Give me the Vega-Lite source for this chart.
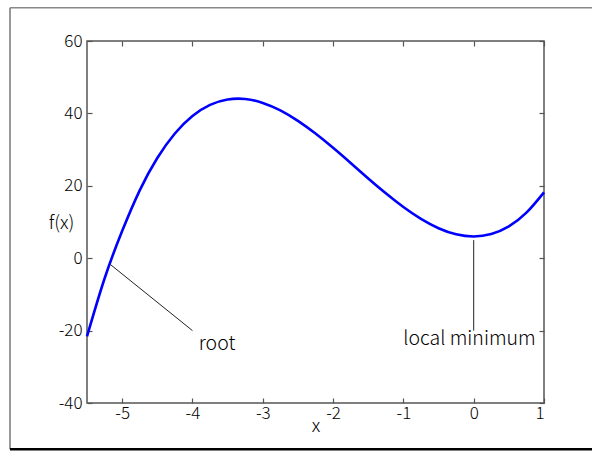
{
  "$schema": "https://vega.github.io/schema/vega-lite/v6.json",
  "width": 457,
  "height": 362,
  "autosize": "none",
  "padding": {"left": 87, "top": 41, "right": 48, "bottom": 50},
  "background": "white",
  "config": {
    "font": "Noto Sans CJK JP",
    "view": {"stroke": "#555", "strokeWidth": 1.5},
    "axis": {
      "domain": false,
      "grid": false,
      "tickColor": "#555",
      "tickWidth": 1.2,
      "tickSize": -5,
      "labelFontSize": 17,
      "labelFontWeight": 300,
      "labelColor": "#000",
      "labelFont": "Noto Sans CJK JP",
      "labelExpr": "'' + datum.value",
      "titleFont": "Noto Sans CJK JP",
      "titleFontSize": 18.5,
      "titleFontWeight": 300,
      "titleColor": "#000"
    }
  },
  "datasets": {
    "curve": [
      {"x": -5.5, "y": -21.6},
      {"x": -5.25, "y": -5.6},
      {"x": -5.0, "y": 7.5},
      {"x": -4.75, "y": 18.75},
      {"x": -4.5, "y": 27.67},
      {"x": -4.25, "y": 34.45},
      {"x": -4.0, "y": 39.28},
      {"x": -3.75, "y": 42.36},
      {"x": -3.5, "y": 43.85},
      {"x": -3.25, "y": 43.98},
      {"x": -3.0, "y": 42.9},
      {"x": -2.75, "y": 40.83},
      {"x": -2.5, "y": 37.94},
      {"x": -2.25, "y": 34.43},
      {"x": -2.0, "y": 30.48},
      {"x": -1.75, "y": 26.29},
      {"x": -1.5, "y": 22.04},
      {"x": -1.25, "y": 17.93},
      {"x": -1.0, "y": 14.14},
      {"x": -0.75, "y": 10.86},
      {"x": -0.5, "y": 8.29},
      {"x": -0.25, "y": 6.6},
      {"x": 0.0, "y": 6.0},
      {"x": 0.25, "y": 6.67},
      {"x": 0.5, "y": 8.79},
      {"x": 0.75, "y": 12.57},
      {"x": 1.0, "y": 18.18}
    ],
    "notes": [
      {"x": -5.17, "y": -1.7, "x2": -4.0, "y2": -20.0, "tx": -3.91, "ty": -23.6, "label": "root", "align": "left"},
      {"x": 0.0, "y": 5.0, "x2": 0.0, "y2": -20.0, "tx": -0.06, "ty": -22.2, "label": "local minimum", "align": "center"}
    ]
  },
  "layer": [
    {
      "data": {"name": "curve"},
      "mark": {"type": "line", "color": "#0000ff", "strokeWidth": 2.6, "interpolate": "natural"},
      "encoding": {
        "x": {"field": "x", "type": "quantitative", "scale": {"domain": [-5.5, 1], "nice": false, "zero": false},
          "axis": {"orient": "bottom", "values": [-5, -4, -3, -2, -1, 0, 1], "labelPadding": 7, "title": "x", "titleAnchor": "middle", "titleBaseline": "middle", "titleY": 22, "titlePadding": 0}},
        "y": {"field": "y", "type": "quantitative", "scale": {"domain": [-40, 60], "nice": false, "zero": false},
          "axis": {"orient": "left", "values": [-40, -20, 0, 20, 40, 60], "labelPadding": 10, "title": "f(x)", "titleAngle": 0, "titleAlign": "center", "titleBaseline": "middle", "titleX": -26, "titleY": 181}}
      }
    },
    {
      "data": {"name": "curve"},
      "mark": {"type": "line", "opacity": 0},
      "encoding": {
        "x": {"field": "x", "type": "quantitative", "axis": {"orient": "top", "values": [-5, -4, -3, -2, -1, 0, 1], "labels": false, "title": null}},
        "y": {"field": "y", "type": "quantitative", "axis": {"orient": "right", "values": [-40, -20, 0, 20, 40, 60], "labels": false, "title": null}}
      }
    },
    {
      "data": {"name": "notes"},
      "mark": {"type": "rule", "color": "#222", "strokeWidth": 1},
      "encoding": {
        "x": {"field": "x", "type": "quantitative", "axis": null},
        "y": {"field": "y", "type": "quantitative", "axis": null},
        "x2": {"field": "x2"},
        "y2": {"field": "y2"}
      }
    },
    {
      "data": {"name": "notes"},
      "transform": [{"filter": "datum.align == 'left'"}],
      "mark": {"type": "text", "fontSize": 19.5, "fontWeight": 300, "baseline": "middle", "align": "left", "color": "#000"},
      "encoding": {
        "x": {"field": "tx", "type": "quantitative", "axis": null},
        "y": {"field": "ty", "type": "quantitative", "axis": null},
        "text": {"field": "label"}
      }
    },
    {
      "data": {"name": "notes"},
      "transform": [{"filter": "datum.align == 'center'"}],
      "mark": {"type": "text", "fontSize": 19.5, "fontWeight": 300, "baseline": "middle", "align": "center", "color": "#000"},
      "encoding": {
        "x": {"field": "tx", "type": "quantitative", "axis": null},
        "y": {"field": "ty", "type": "quantitative", "axis": null},
        "text": {"field": "label"}
      }
    },
    {
      "data": {"values": [{}]},
      "mark": {"type": "rule", "color": "#888", "strokeWidth": 1.5},
      "encoding": {
        "x": {"datum": -6.595, "type": "quantitative", "axis": null},
        "x2": {"datum": 1.7},
        "y": {"datum": 69.2, "type": "quantitative", "axis": null}
      }
    },
    {
      "data": {"values": [{}]},
      "mark": {"type": "rule", "color": "#777", "strokeWidth": 1.5},
      "encoding": {
        "x": {"datum": -6.595, "type": "quantitative", "axis": null},
        "y": {"datum": 69.2, "type": "quantitative", "axis": null},
        "y2": {"datum": -52.8}
      }
    },
    {
      "data": {"values": [{}]},
      "mark": {"type": "rule", "color": "#000", "strokeWidth": 2.5},
      "encoding": {
        "x": {"datum": -6.595, "type": "quantitative", "axis": null},
        "x2": {"datum": 1.7},
        "y": {"datum": -52.8, "type": "quantitative", "axis": null}
      }
    }
  ],
  "resolve": {"axis": {"x": "independent", "y": "independent"}}
}
